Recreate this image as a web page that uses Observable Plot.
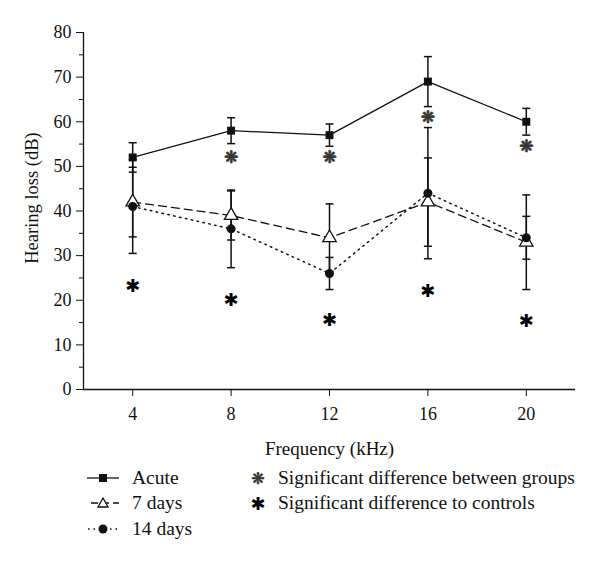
<!DOCTYPE html>
<html>
<head>
<meta charset="utf-8">
<script src="https://cdn.jsdelivr.net/npm/d3@7"></script>
<script src="https://cdn.jsdelivr.net/npm/@observablehq/plot@0.6"></script>
<style>
  html, body { margin: 0; padding: 0; background: #fff; }
  #wrap { width: 600px; font-family: "Liberation Serif", "DejaVu Serif", serif; color: #111; }
  #legend { position: relative; width: 600px; height: 100px; font-size: 19.5px; }
  .item { position: absolute; display: flex; align-items: center; height: 24px; }
  .item svg { display: block; }
</style>
</head>
<body>
<div id="wrap">
  <div id="chart"></div>
  <div id="legend"></div>
</div>
<script>
// ---- data ----
const freq = [4, 8, 12, 16, 20];
const acute = [52, 58, 57, 69, 60];
const acuteSD = [3.3, 2.9, 2.5, 5.6, 3.0];
const days7 = [42, 39, 34, 42, 33];
const days7SD = [7.8, 5.5, 7.6, 9.9, 10.6];
const days14 = [41, 36, 26, 44, 34];
const days14SD = [10.5, 8.7, 3.6, 14.7, 4.8];
const betweenFreq = [8, 12, 16, 20];
const betweenY = [52, 52, 61, 54.5];
const controlsFreq = [4, 8, 12, 16, 20];
const controlsY = [23.2, 20, 15.6, 22, 15.2];
const yTicks = [0, 10, 20, 30, 40, 50, 60, 70, 80];
const yMinor = [5, 15, 25, 35, 45, 55, 65, 75];
const xTicks = [4, 8, 12, 16, 20];
const seriesNames = ["Acute", "7 days", "14 days"];
const xLabel = "Frequency (kHz)";
const yLabel = "Hearing loss (dB)";
const legendSig = ["Significant difference between groups", "Significant difference to controls"];

// ---- build tables ----
function rows(means, sds, group) {
  return freq.map((f, i) => ({freq: f, mean: means[i], sd: sds[i], group}));
}
const acuteRows = rows(acute, acuteSD, seriesNames[0]);
const d7Rows = rows(days7, days7SD, seriesNames[1]);
const d14Rows = rows(days14, days14SD, seriesNames[2]);
const allRows = [...acuteRows, ...d7Rows, ...d14Rows];
const between = betweenFreq.map((f, i) => ({freq: f, y: betweenY[i]}));
const controls = controlsFreq.map((f, i) => ({freq: f, y: controlsY[i]}));

const cap = {draw(ctx) { ctx.moveTo(-4, 0); ctx.lineTo(4, 0); }};
const ink = "#111";
const font = "Liberation Serif";

const plot = Plot.plot({
  width: 600,
  height: 463,
  marginLeft: 83,
  marginRight: 25,
  marginTop: 32,
  marginBottom: 74,
  style: {fontFamily: font, fontSize: "18px", color: ink, background: "#fff"},
  x: {domain: [2, 22]},
  y: {domain: [0, 80]},
  marks: [
    Plot.axisY({ticks: yTicks, tickSize: 7, tickPadding: 5, label: null, fontSize: 18}),
    Plot.axisY({ticks: yMinor, tickSize: 4, tickFormat: () => "", label: null}),
    Plot.axisX({ticks: xTicks, tickSize: 7, tickPadding: 11, label: null, fontSize: 18}),
    Plot.ruleX([2], {stroke: ink, strokeWidth: 1.3}),
    Plot.ruleY([0], {stroke: ink, strokeWidth: 1.3}),
    Plot.text([yLabel], {frameAnchor: "left", textAnchor: "middle", rotate: -90, dx: -51, dy: -13, fontSize: 18.5, fill: ink}),
    Plot.text([xLabel], {frameAnchor: "bottom", textAnchor: "middle", lineAnchor: "middle", dy: 59, fontSize: 19, fill: ink}),
    // lines
    Plot.line(acuteRows, {x: "freq", y: "mean", stroke: ink, strokeWidth: 1.3}),
    Plot.line(d7Rows, {x: "freq", y: "mean", stroke: ink, strokeWidth: 1.3, strokeDasharray: "8,5"}),
    Plot.line(d14Rows, {x: "freq", y: "mean", stroke: ink, strokeWidth: 1.5, strokeDasharray: "1.5,4.5"}),
    // error bars
    Plot.ruleX(allRows, {x: "freq", y1: d => d.mean - d.sd, y2: d => d.mean + d.sd, stroke: ink, strokeWidth: 1.5}),
    Plot.dot(allRows, {x: "freq", y: d => d.mean - d.sd, symbol: cap, r: 4, stroke: ink, strokeWidth: 1.5, fill: "none"}),
    Plot.dot(allRows, {x: "freq", y: d => d.mean + d.sd, symbol: cap, r: 4, stroke: ink, strokeWidth: 1.5, fill: "none"}),
    // markers
    Plot.dot(acuteRows, {x: "freq", y: "mean", symbol: "square", r: 4.5, fill: ink, stroke: "none"}),
    Plot.dot(d7Rows, {x: "freq", y: "mean", symbol: "triangle", r: 5, fill: "#fff", stroke: ink, strokeWidth: 1.3}),
    Plot.dot(d14Rows, {x: "freq", y: "mean", symbol: "circle", r: 4.5, fill: ink, stroke: "none"}),
    // significance markers
    Plot.text(between, {x: "freq", y: "y", text: () => "\u274B", fontFamily: "DejaVu Sans", fontSize: 17, fill: "#333", stroke: "#333", strokeWidth: 0.7}),
    Plot.text(controls, {x: "freq", y: "y", text: () => "\u2731", fontFamily: "DejaVu Sans", fontSize: 18, fill: "#000"})
  ]
});
document.getElementById("chart").appendChild(plot);

// ---- legend ----
const legend = document.getElementById("legend");
const icons = [
  `<svg width="34" height="14"><line x1="0" y1="7" x2="32" y2="7" stroke="${ink}" stroke-width="1.3"/><rect x="12" y="3" width="8" height="8" fill="${ink}"/></svg>`,
  `<svg width="34" height="14"><line x1="4" y1="7" x2="32" y2="7" stroke="${ink}" stroke-width="1.3" stroke-dasharray="7,4"/><path d="M16,2 L21,11 L11,11 Z" fill="#fff" stroke="${ink}" stroke-width="1.3"/></svg>`,
  `<svg width="34" height="14"><line x1="1" y1="7" x2="32" y2="7" stroke="${ink}" stroke-width="1.5" stroke-dasharray="1.5,4"/><circle cx="16" cy="7" r="4.5" fill="${ink}"/></svg>`
];
const rowTops = [3, 28, 54];
seriesNames.forEach((name, i) => {
  const el = document.createElement("div");
  el.className = "item";
  el.style.left = "87px";
  el.style.top = rowTops[i] + "px";
  el.innerHTML = icons[i] + `<span style="margin-left:11px">${name}</span>`;
  legend.appendChild(el);
});
const sigGlyphs = [["\u274B", 16, "#333", "0.5px #333"], ["\u2731", 18, "#000", "0"]];
legendSig.forEach((name, i) => {
  const el = document.createElement("div");
  el.className = "item";
  el.style.left = "250px";
  el.style.top = rowTops[i] + "px";
  el.innerHTML = `<span style="font-family:'DejaVu Sans';font-size:${sigGlyphs[i][1]}px;color:${sigGlyphs[i][2]};-webkit-text-stroke:${sigGlyphs[i][3]};width:16px;text-align:center;display:inline-block">${sigGlyphs[i][0]}</span><span style="margin-left:12px">${name}</span>`;
  legend.appendChild(el);
});
</script>
</body>
</html>
